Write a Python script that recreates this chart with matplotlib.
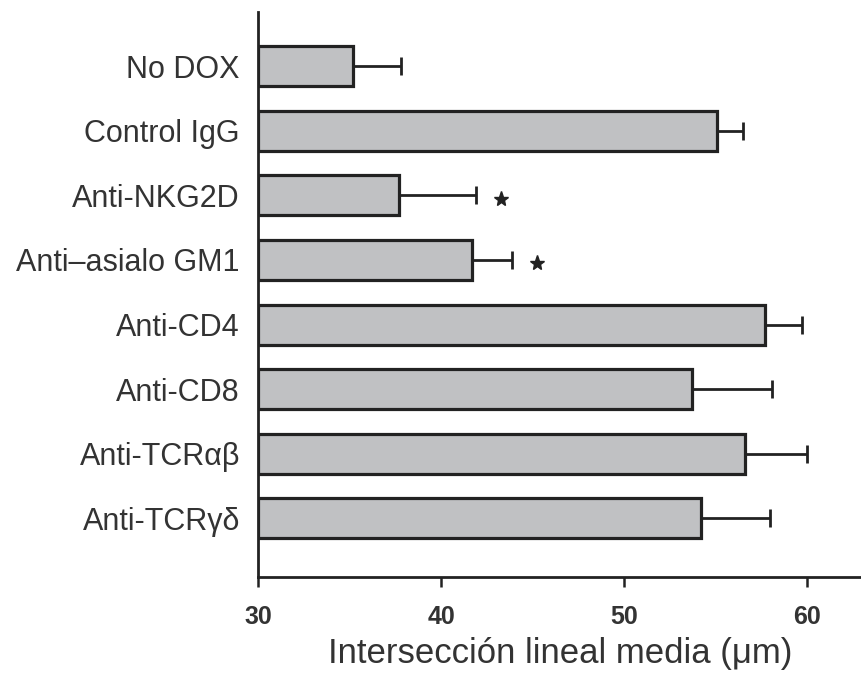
import numpy as np
import matplotlib
matplotlib.use("Agg")
import matplotlib.pyplot as plt

plt.rcParams["font.family"] = ["Liberation Sans", "DejaVu Sans"]

# values (mean and upper error, in µm)
groups = [
    "No DOX",
    "Control IgG",
    "Anti-NKG2D",
    "Anti\u2013asialo GM1",
    "Anti-CD4",
    "Anti-CD8",
    "Anti-TCR\u03b1\u03b2",
    "Anti-TCR\u03b3\u03b4",
]
means = [35.2, 55.1, 37.7, 41.7, 57.7, 53.7, 56.6, 54.2]
errors = [2.6, 1.4, 4.2, 2.2, 2.0, 4.4, 3.4, 3.8]
significant = [False, False, True, True, False, False, False, False]
x_ticks = [30, 40, 50, 60]
x_label = "Intersección lineal media (μm)"

BASE = 30
EDGE = "#222222"

fig = plt.figure(figsize=(8.62, 6.84), dpi=100)
ax = fig.add_axes([258 / 862, 1 - 577 / 684, 1 - 258 / 862, (577 - 12) / 684])

y = np.arange(len(groups))
widths = np.array(means) - BASE
ax.barh(y, widths, left=BASE, height=0.62, color="#c0c1c3", edgecolor=EDGE,
        linewidth=2.3, zorder=3)
ax.errorbar(means, y, xerr=[np.zeros(len(errors)), errors], fmt="none",
            ecolor=EDGE, elinewidth=2.0, capsize=6.5, capthick=2.0, zorder=2)

for yi, m, e, sig in zip(y, means, errors, significant):
    if sig:
        ax.plot(m + e + 1.35, yi + 0.05, marker="*", color=EDGE,
                markersize=11, linestyle="none")

ax.set_xlim(BASE, 63)
ax.set_ylim(len(groups) - 1 + 0.91, -0.84)
ax.set_xticks(x_ticks)
ax.set_xticklabels([str(t) for t in x_ticks], fontsize=18, fontweight="bold",
                   color="#333333")
ax.set_yticks(y)
ax.set_yticklabels(groups, fontsize=22, color="#333333")
ax.tick_params(axis="x", direction="out", length=7, width=1.8, pad=13, colors=EDGE,
               labelcolor="#333333")
ax.tick_params(axis="y", length=0, pad=13)
ax.set_xlabel(x_label, fontsize=25, color="#333333", labelpad=6)

for side in ("top", "right"):
    ax.spines[side].set_visible(False)
for side in ("left", "bottom"):
    ax.spines[side].set_linewidth(2.0)
    ax.spines[side].set_color(EDGE)

fig.savefig("out.png", dpi=100)
